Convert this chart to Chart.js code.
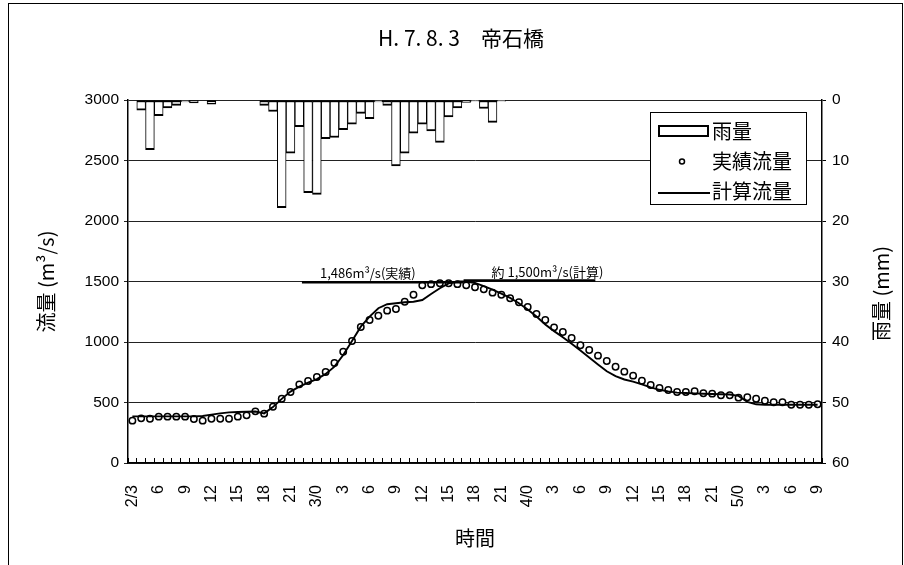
<!DOCTYPE html>
<html>
<head>
<meta charset="utf-8">
<script src="https://cdn.jsdelivr.net/npm/chart.js@4/dist/chart.umd.min.js"></script>
<style>
  html, body { margin: 0; padding: 0; background: #fff; }
  canvas { display: block; }
</style>
</head>
<body>
<canvas id="c" width="904" height="565"></canvas>
<script>
const FONT = "'Noto Sans CJK JP', 'Noto Sans', sans-serif";
const NUM_FONT = "'Liberation Sans', Arial, sans-serif";

// Hourly time steps from the 2nd, 3:00 to the 5th, 9:00 (79 steps)
const hours = [];
for (let i = 0; i < 79; i++) {
  const t = 3 + i;
  hours.push((2 + Math.floor(t / 24)) + '/' + (t % 24));
}

// Axis labels shown every three hours
const tickLabels = ['2/3', '6', '9', '12', '15', '18', '21',
  '3/0', '3', '6', '9', '12', '15', '18', '21',
  '4/0', '3', '6', '9', '12', '15', '18', '21',
  '5/0', '3', '6', '9'];

// Hourly rainfall (mm)
const rainfall = [
  0, 1.7, 8.2, 2.6, 1.3, 0.9, 0.3, 0.5, 0, 0.7,
  0, 0, 0, 0, 0, 0.9, 1.9, 17.8, 8.8, 4.4,
  15.3, 15.6, 6.4, 6.2, 4.9, 4.0, 2.2, 3.1, 0.3, 0.9,
  10.9, 8.8, 5.5, 4.0, 5.1, 7.0, 2.8, 1.3, 0.4, 0.2,
  1.4, 3.7, 0.2, 0, 0, 0, 0, 0, 0, 0,
  0, 0, 0, 0, 0, 0, 0, 0, 0, 0,
  0, 0, 0, 0, 0, 0, 0, 0, 0, 0,
  0, 0, 0, 0, 0, 0, 0, 0, 0
];

// Observed discharge (m3/s)
const observedFlow = [
  350, 369, 366, 383, 383, 383, 383, 364, 350, 366,
  366, 366, 383, 394, 427, 408, 465, 531, 587, 650,
  678, 711, 752, 826, 920, 1008, 1124, 1182, 1217, 1259,
  1273, 1333, 1391, 1468, 1478, 1486, 1485, 1478, 1468, 1452,
  1435, 1408, 1391, 1361, 1328, 1289, 1231, 1182, 1121, 1083,
  1033, 973, 934, 887, 843, 796, 755, 722, 680, 645,
  620, 603, 587, 587, 593, 576, 573, 560, 560, 540,
  543, 531, 515, 502, 502, 482, 482, 482, 485
];

// Calculated discharge (m3/s)
const calculatedFlow = [
  385, 385, 385, 385, 385, 385, 385, 385, 388, 400,
  410, 418, 422, 424, 425, 410, 462, 530, 590, 631,
  664, 694, 736, 796, 893, 1008, 1127, 1210, 1279, 1312,
  1320, 1328, 1333, 1347, 1397, 1444, 1485, 1500, 1500, 1488,
  1462, 1432, 1400, 1365, 1320, 1268, 1210, 1145, 1090, 1040,
  985, 930, 872, 815, 758, 718, 690, 672, 650, 625,
  605, 592, 582, 578, 575, 572, 570, 568, 566, 555,
  505, 485, 482, 482, 482, 482, 482, 482, 482
];

// Peak discharge markers: span (in hour steps), level and caption
const peakMarks = [
  { from: 19.3, to: 37.7, value: 1486, text: '1,486m³/s(実績)', textAt: 26.8 },
  { from: 37.7, to: 52.7, value: 1500, text: '約 1,500m³/s(計算)', textAt: 47.25 }
];

const frameAndTitle = {
  id: 'frameAndTitle',
  beforeDraw(chart) {
    const ctx = chart.ctx;
    ctx.save();
    ctx.fillStyle = '#fff';
    ctx.fillRect(0, 0, chart.width, chart.height);
    ctx.strokeStyle = '#000';
    ctx.lineWidth = 1;
    ctx.strokeRect(8.5, 3.5, 894, 600);
    ctx.restore();
  },
  afterDraw(chart) {
    const ctx = chart.ctx;
    ctx.save();
    ctx.fillStyle = '#000';
    ctx.font = '21px ' + FONT;
    ctx.textAlign = 'center';
    ctx.textBaseline = 'middle';
    ctx.fillText('H. 7. 8. 3　帝石橋', 461, 38);

    // right axis title, reading bottom to top
    ctx.font = '20px ' + FONT;
    const r = chart.scales.y1;
    ctx.translate(881, (r.top + r.bottom) / 2 + 12);
    ctx.rotate(-Math.PI / 2);
    ctx.fillText('雨量 (mm)', 0, 0);
    ctx.restore();
  }
};

const peakMarkers = {
  id: 'peakMarkers',
  afterDatasetsDraw(chart) {
    const ctx = chart.ctx;
    const x = chart.scales.x, y = chart.scales.y;
    ctx.save();
    ctx.strokeStyle = '#000';
    ctx.fillStyle = '#000';
    ctx.lineWidth = 2.5;
    ctx.font = '13px ' + FONT;
    ctx.textAlign = 'center';
    ctx.textBaseline = 'alphabetic';
    peakMarks.forEach(m => {
      const py = y.getPixelForValue(m.value) - 1;
      ctx.beginPath();
      ctx.moveTo(x.getPixelForValue(m.from), py);
      ctx.lineTo(x.getPixelForValue(m.to), py);
      ctx.stroke();
      ctx.fillText(m.text, x.getPixelForValue(m.textAt), py - 4);
    });
    ctx.restore();
  }
};

const boxLegend = {
  id: 'boxLegend',
  afterDraw(chart) {
    const ctx = chart.ctx;
    const L = 650.5, T = 112.5, W = 156, H = 92;
    ctx.save();
    ctx.fillStyle = '#fff';
    ctx.fillRect(L, T, W, H);
    ctx.strokeStyle = '#000';
    ctx.lineWidth = 1;
    ctx.strokeRect(L, T, W, H);

    // rainfall swatch
    ctx.lineWidth = 2;
    ctx.strokeRect(659, 126, 49, 10);
    // observed swatch
    ctx.lineWidth = 1.5;
    ctx.beginPath();
    ctx.arc(682, 161.5, 2.5, 0, Math.PI * 2);
    ctx.fillStyle = '#fff';
    ctx.fill();
    ctx.stroke();
    // calculated swatch
    ctx.lineWidth = 2;
    ctx.beginPath();
    ctx.moveTo(658, 193);
    ctx.lineTo(710, 193);
    ctx.stroke();

    ctx.fillStyle = '#000';
    ctx.font = '20px ' + FONT;
    ctx.textAlign = 'left';
    ctx.textBaseline = 'middle';
    ctx.fillText('雨量', 712, 131);
    ctx.fillText('実績流量', 712, 161);
    ctx.fillText('計算流量', 712, 191);
    ctx.restore();
  }
};

new Chart(document.getElementById('c'), {
  type: 'bar',
  data: {
    labels: hours,
    datasets: [
      {
        type: 'line', label: '計算流量', data: calculatedFlow, yAxisID: 'y',
        borderColor: '#000', borderWidth: 1.9, pointRadius: 0, tension: 0, order: 0
      },
      {
        type: 'line', label: '実績流量', data: observedFlow, yAxisID: 'y',
        showLine: false, pointRadius: 3.2, pointBorderWidth: 1.5,
        pointBackgroundColor: '#fff', pointBorderColor: '#000', borderColor: '#000', order: 1
      },
      {
        type: 'bar', label: '雨量', data: rainfall, yAxisID: 'y1',
        backgroundColor: '#fff', borderColor: '#000',
        borderWidth: { top: 2, bottom: 2, left: 1, right: 1 }, borderSkipped: false,
        barPercentage: 1, categoryPercentage: 1, order: 2
      }
    ]
  },
  options: {
    responsive: false,
    animation: false,
    events: [],
    layout: { padding: { top: 100, left: 0, right: 0, bottom: 0 } },
    plugins: { legend: { display: false }, tooltip: { enabled: false }, title: { display: false } },
    scales: {
      x: {
        type: 'category',
        offset: true,
        grid: { offset: true, drawOnChartArea: false, drawTicks: true, tickLength: -5, color: '#000', lineWidth: 1 },
        border: { color: '#000', width: 1.5 },
        ticks: {
          autoSkip: false, maxRotation: 90, minRotation: 90, padding: 27, color: '#000',
          font: { family: NUM_FONT, size: 16 },
          callback: (v, i) => (i % 3 === 0 ? tickLabels[i / 3] : '')
        },
        title: { display: true, text: '時間', color: '#000', font: { family: FONT, size: 20 }, padding: { top: 0, bottom: 15 } },
        afterFit(s) { s.height = 102; }
      },
      y: {
        position: 'left',
        min: 0, max: 3000,
        grid: { color: '#222', lineWidth: 1, tickLength: 4 },
        border: { color: '#000', width: 1.5 },
        ticks: { stepSize: 500, padding: 5, color: '#000', font: { family: NUM_FONT, size: 15.5 }, callback: v => String(v) },
        title: { display: true, text: '流量 (m³/s)', color: '#000', font: { family: FONT, size: 20 }, padding: { top: 34, bottom: 0 } },
        afterFit(s) { s.width = 128; }
      },
      y1: {
        position: 'right',
        min: 0, max: 60, reverse: true,
        grid: { drawOnChartArea: false, color: '#000', tickLength: 4 },
        border: { color: '#000', width: 1.5 },
        ticks: { stepSize: 10, padding: 6, color: '#000', font: { family: NUM_FONT, size: 15.5 }, callback: v => String(v) },
        afterFit(s) { s.width = 82; }
      }
    }
  },
  plugins: [frameAndTitle, peakMarkers, boxLegend]
});
</script>
</body>
</html>
